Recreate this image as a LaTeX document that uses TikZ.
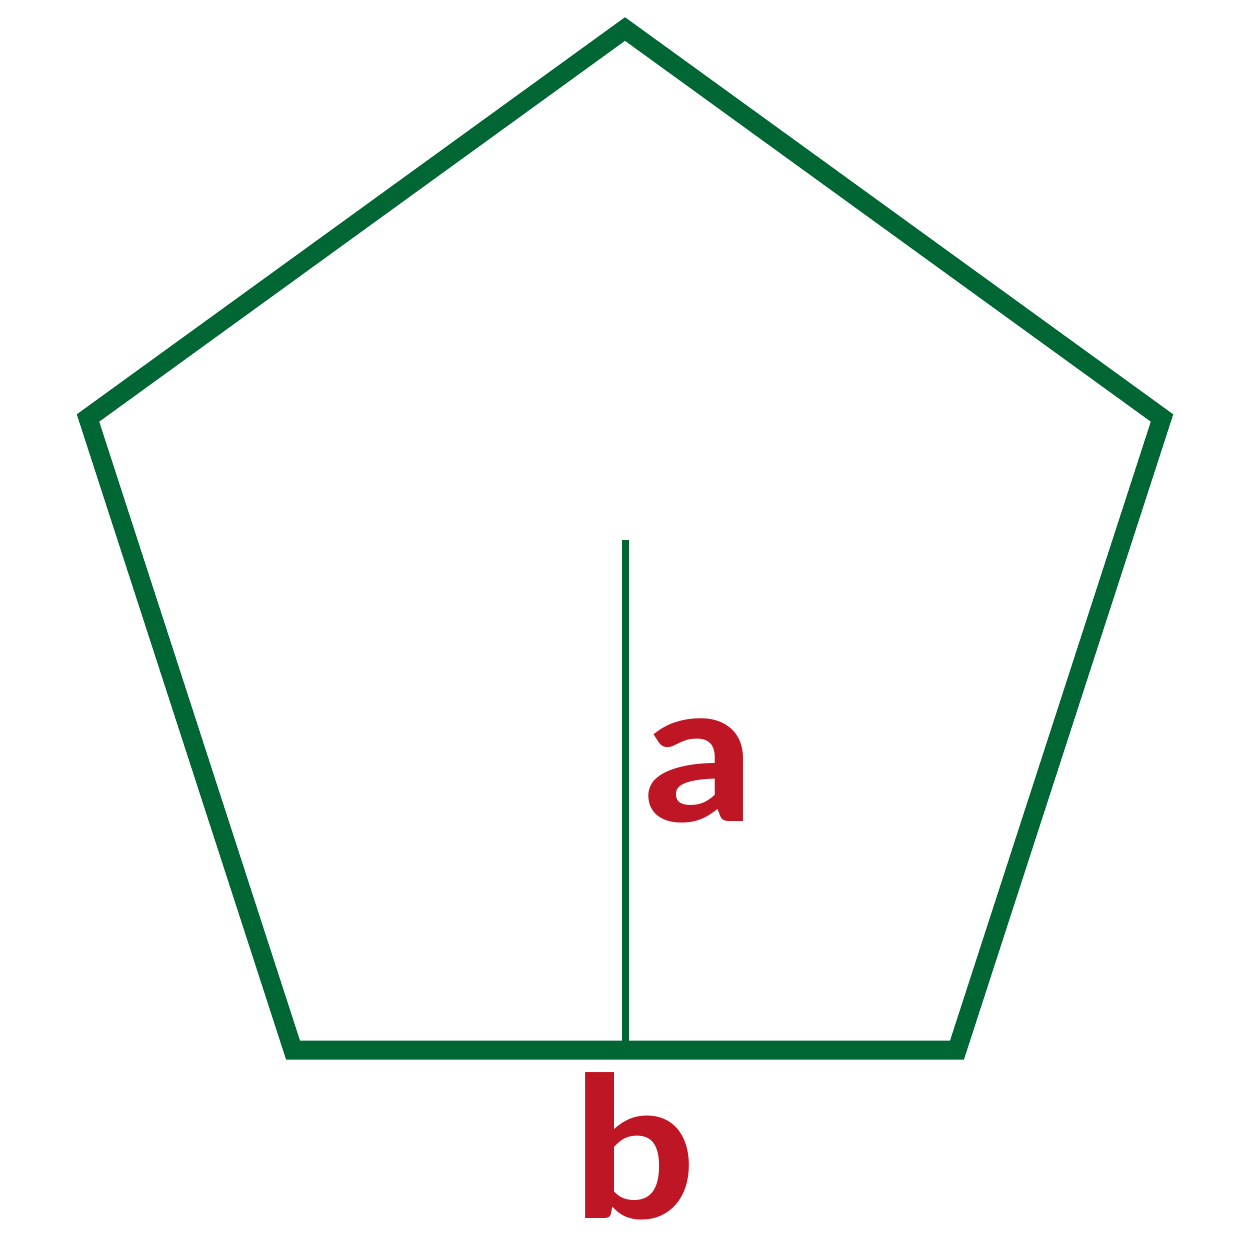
\documentclass[tikz,border=0pt]{standalone}
\usepackage{fontspec}
\setmainfont{Carlito}
\definecolor{pgreen}{RGB}{0,102,51}
\definecolor{pred}{RGB}{190,22,36}
\begin{document}
\begin{tikzpicture}[x=0.5pt,y=-0.5pt,
  edge/.style={draw=pgreen,line width=9.5pt,line join=miter},
  apothem/.style={draw=pgreen,line width=3.5pt},
  lbl/.style={text=pred,font=\bfseries\fontsize{104pt}{104pt}\selectfont,inner sep=0pt,anchor=base,xscale=1.12}]
\useasboundingbox (0,0) rectangle (1251,1251);
\coordinate (T) at (625,29);
\coordinate (R) at (1162,418);
\coordinate (BR) at (957,1050);
\coordinate (BL) at (293,1050);
\coordinate (L) at (88,418);
\coordinate (M) at (625,1050);
\coordinate (C) at (625,540);
\draw[edge] (T) -- (R) -- (BR) -- (BL) -- (L) -- cycle;
\draw[apothem] (C) -- (M);
\node[lbl] (a) at (698,821) {a};
\node[lbl] (b) at (634,1218) {b};
\end{tikzpicture}
\end{document}
